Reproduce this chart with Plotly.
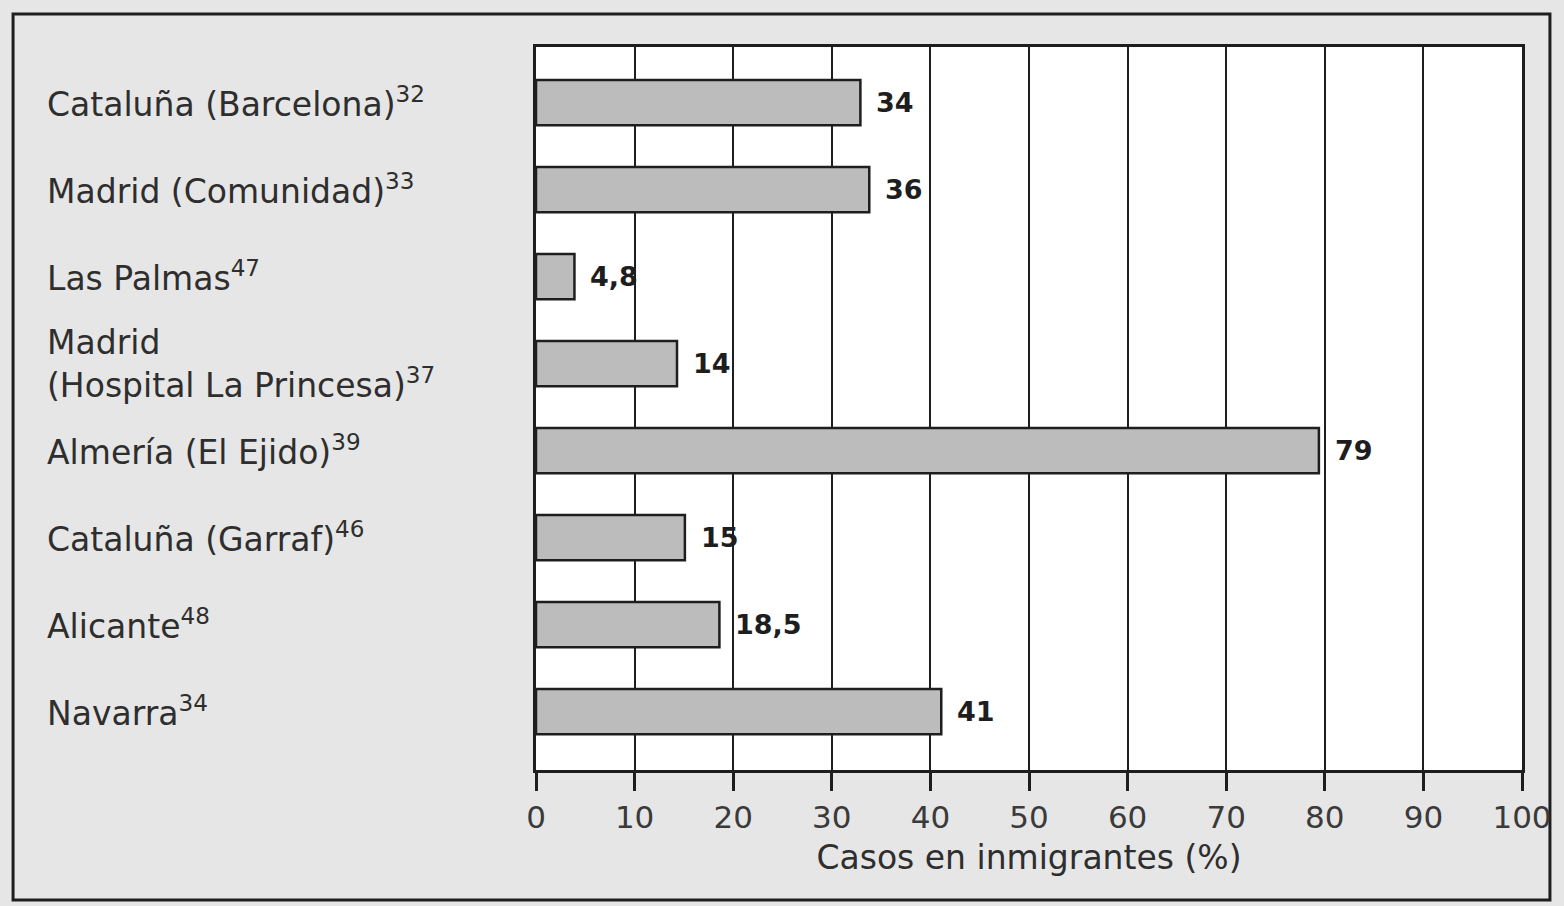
import plotly.graph_objects as go

categories = [
    "Cataluña (Barcelona)<sup>32</sup>",
    "Madrid (Comunidad)<sup>33</sup>",
    "Las Palmas<sup>47</sup>",
    "Madrid<br>(Hospital La Princesa)<sup>37</sup>",
    "Almería (El Ejido)<sup>39</sup>",
    "Cataluña (Garraf)<sup>46</sup>",
    "Alicante<sup>48</sup>",
    "Navarra<sup>34</sup>",
]
# bar lengths as drawn in the picture
bar_values = [32.9, 33.8, 3.9, 14.3, 79.4, 15.1, 18.6, 41.1]
# printed value labels
value_labels = ["34", "36", "4,8", "14", "79", "15", "18,5", "41"]
x_ticks = [0, 10, 20, 30, 40, 50, 60, 70, 80, 90, 100]
x_title = "Casos en inmigrantes (%)"

W, H = 1564, 906
ML, MR, MT, MB = 536, 40, 47, 136
PW = W - ML - MR
PH = H - MT - MB

fig = go.Figure()
fig.add_trace(go.Bar(
    y=categories,
    x=bar_values,
    orientation="h",
    width=0.52,
    marker=dict(color="#bcbcbc", line=dict(color="#1e1e1e", width=2.5)),
    hoverinfo="skip",
))

annotations = []
for cat in categories:
    annotations.append(dict(
        x=(44 - ML) / PW, xref="paper", y=cat, yref="y",
        text=cat, showarrow=False, xanchor="left", yanchor="middle", align="left",
        font=dict(family="DejaVu Sans", size=33, color="#2e2e2e"),
    ))
for cat, v, lab in zip(categories, bar_values, value_labels):
    annotations.append(dict(
        x=v, xref="x", y=cat, yref="y",
        text="<b>" + lab + "</b>", showarrow=False, xanchor="left", yanchor="middle",
        xshift=14,
        font=dict(family="DejaVu Sans", size=27, color="#1e1e1e"),
    ))

fig.update_layout(
    width=W, height=H,
    margin=dict(l=ML, r=MR, t=MT, b=MB, pad=0),
    paper_bgcolor="#e6e6e6",
    plot_bgcolor="#ffffff",
    showlegend=False,
    annotations=annotations,
    shapes=[dict(
        type="rect", xref="paper", yref="paper",
        x0=(12 - ML) / PW, x1=(1552 - ML) / PW,
        y0=(MT + PH - 900) / PH, y1=(MT + PH - 14) / PH,
        line=dict(color="#1e1e1e", width=3), fillcolor="rgba(0,0,0,0)", layer="below",
    )],
)
fig.update_xaxes(
    range=[0, 100], tickvals=x_ticks, ticktext=[str(t) for t in x_ticks],
    showgrid=True, gridcolor="#1e1e1e", gridwidth=2,
    showline=True, linecolor="#1e1e1e", linewidth=2.5, mirror=True,
    ticks="outside", ticklen=18, tickwidth=2.5, tickcolor="#1e1e1e",
    tickfont=dict(family="DejaVu Sans", size=31, color="#3a3a3a"),
    title=dict(text=x_title, font=dict(family="DejaVu Sans", size=33, color="#2e2e2e"), standoff=12),
    zeroline=False, fixedrange=True,
)
fig.update_yaxes(
    type="category", range=[7.67, -0.64],
    showticklabels=False, showgrid=False,
    showline=True, linecolor="#1e1e1e", linewidth=2.5, mirror=True,
    ticks="", zeroline=False, fixedrange=True,
)

fig.write_html(
    "out.html",
    config={"displayModeBar": False},
    post_script="document.body.style.margin='0';document.body.style.overflow='hidden';",
)
